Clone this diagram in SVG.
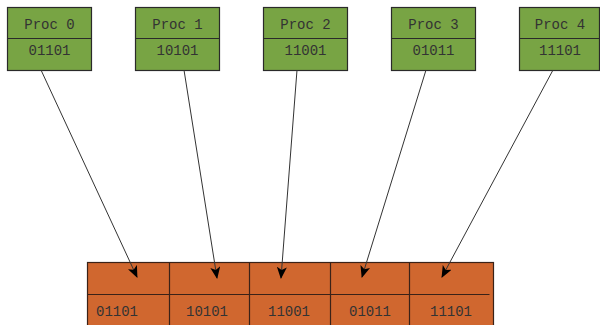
<svg xmlns="http://www.w3.org/2000/svg" width="600" height="325" viewBox="0 0 600 325">
<style>
.proc rect{fill:#78a444;stroke:#2a2a2a;stroke-width:1.2}
.proc line{stroke:#2a2a2a;stroke-width:1.2}
.cell{fill:#d0672f;stroke:#3a2218;stroke-width:1.2}
.div{stroke:#3a2218;stroke-width:1.2}
text{font-family:"Liberation Mono","Courier New",monospace;font-size:14px;fill:#333}
.c{text-anchor:middle}
.conn line{stroke:#333;stroke-width:1}
</style>
<defs>
<marker id="ah" viewBox="0 0 12 10" refX="11" refY="5" markerWidth="12" markerHeight="10" markerUnits="userSpaceOnUse" orient="auto">
<path d="M0,0 L12,5 L0,10 L3,5 Z" fill="#000"/>
</marker>
</defs>
<rect width="600" height="325" fill="#fff"/>
<g id="proc0" class="proc"><rect x="7.5" y="7.5" width="84" height="63"/><line x1="7.5" y1="38.5" x2="91.5" y2="38.5"/><text class="c" x="49.5" y="29">Proc 0</text><text class="c" x="49.5" y="55">01101</text></g>
<g id="proc1" class="proc"><rect x="135.5" y="7.5" width="84" height="63"/><line x1="135.5" y1="38.5" x2="219.5" y2="38.5"/><text class="c" x="177.5" y="29">Proc 1</text><text class="c" x="177.5" y="55">10101</text></g>
<g id="proc2" class="proc"><rect x="263.5" y="7.5" width="84" height="63"/><line x1="263.5" y1="38.5" x2="347.5" y2="38.5"/><text class="c" x="305.5" y="29">Proc 2</text><text class="c" x="305.5" y="55">11001</text></g>
<g id="proc3" class="proc"><rect x="391.5" y="7.5" width="84" height="63"/><line x1="391.5" y1="38.5" x2="475.5" y2="38.5"/><text class="c" x="433.5" y="29">Proc 3</text><text class="c" x="433.5" y="55">01011</text></g>
<g id="proc4" class="proc"><rect x="519.5" y="7.5" width="80" height="63"/><line x1="519.5" y1="38.5" x2="599.5" y2="38.5"/><text class="c" x="560" y="29">Proc 4</text><text class="c" x="560" y="55">11101</text></g>
<g id="array">
<rect class="cell" x="87.5" y="262.5" width="406" height="70"/>
<line class="div" x1="169.5" y1="262.5" x2="169.5" y2="330"/>
<line class="div" x1="249.5" y1="262.5" x2="249.5" y2="330"/>
<line class="div" x1="330.5" y1="262.5" x2="330.5" y2="330"/>
<line class="div" x1="409.5" y1="262.5" x2="409.5" y2="330"/>
<line class="div" x1="87.5" y1="294.5" x2="489.5" y2="294.5"/>
<text x="96" y="316">01101</text>
<text x="186" y="316">10101</text>
<text x="268" y="316">11001</text>
<text x="349" y="316">01011</text>
<text x="430" y="316">11101</text>
</g>
<g id="connectors" class="conn">
<line x1="41" y1="70" x2="137" y2="277" marker-end="url(#ah)"/>
<line x1="184" y1="70" x2="217" y2="278" marker-end="url(#ah)"/>
<line x1="297" y1="70" x2="281" y2="278" marker-end="url(#ah)"/>
<line x1="426" y1="70" x2="362" y2="277" marker-end="url(#ah)"/>
<line x1="553" y1="70" x2="442" y2="277" marker-end="url(#ah)"/>
</g>
</svg>
